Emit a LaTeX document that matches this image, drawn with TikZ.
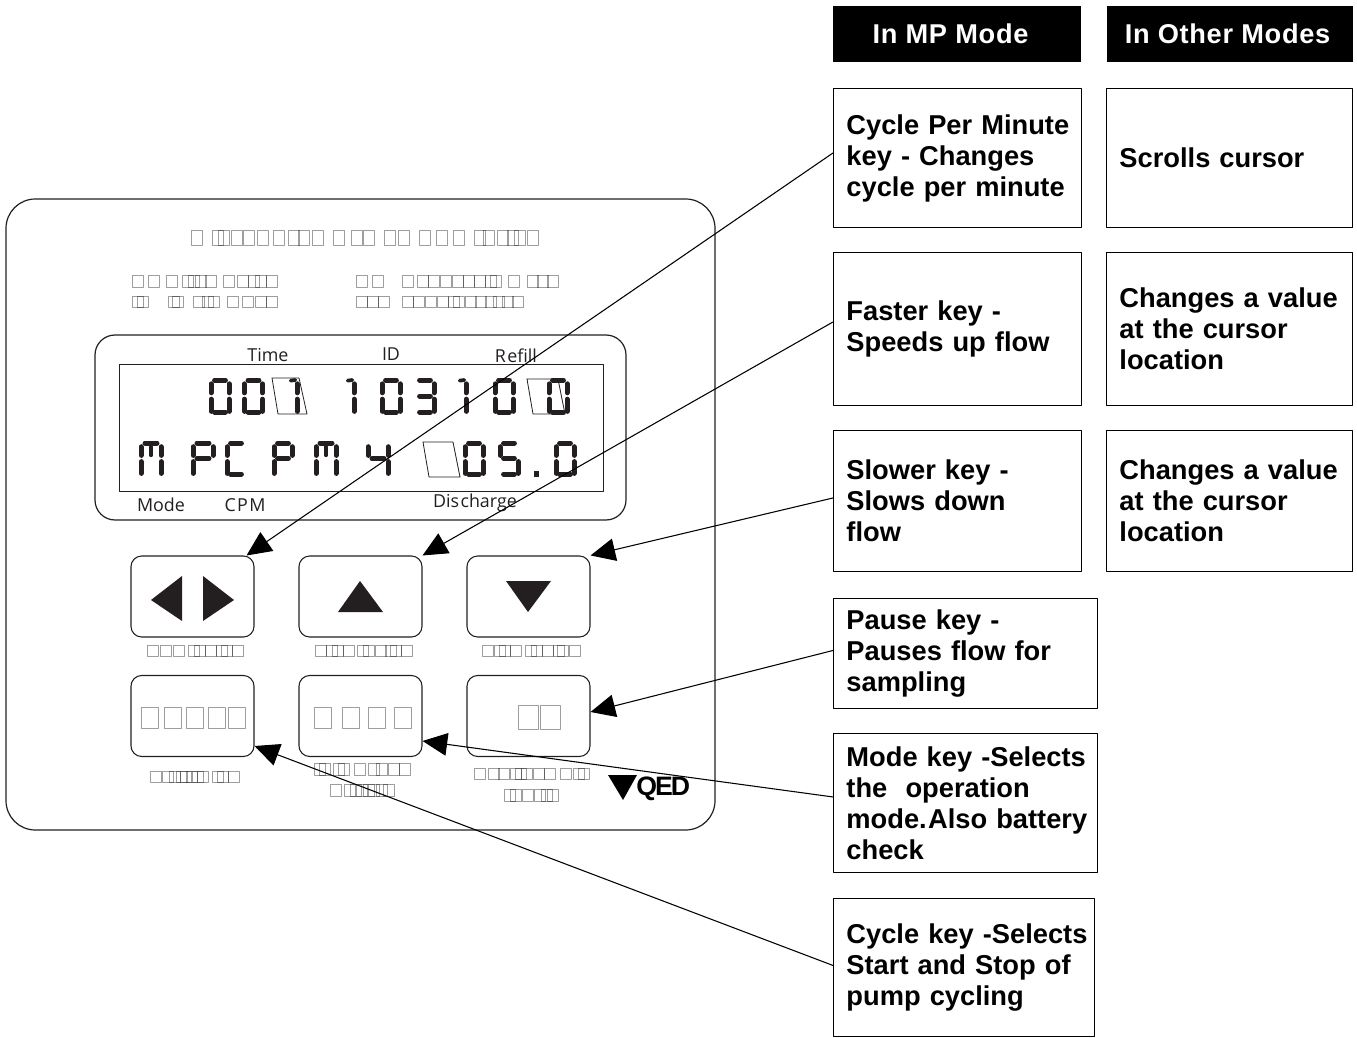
\documentclass[tikz,border=0pt]{standalone}
\usepackage{fontspec}
\setmainfont{Liberation Sans}
\newfontfamily\lcdfont{Open Sans}
\newfontfamily\headfont[LetterSpace=2.5]{Liberation Sans}
\usepackage{xcolor}
\definecolor{qedInk}{HTML}{231F20}
\usetikzlibrary{arrows.meta,calc,positioning}

% one lcd character: x, y of its top left corner, width, height, segments
\newcommand{\lcdchar}[5]{%
  \def\lw{#3}\def\lh{#4}%
  \begin{scope}[shift={(#1,#2)}]
    \foreach \s in {#5}{\csname lcdseg\s\endcsname}
  \end{scope}}
\newcommand{\lcdsega}{\draw[lcdseg] (0.2*\lw,0) -- (0.8*\lw,0);}
\newcommand{\lcdsegb}{\draw[lcdseg] (\lw,0.12*\lh) -- (\lw,0.4*\lh);}
\newcommand{\lcdsegc}{\draw[lcdseg] (\lw,0.6*\lh) -- (\lw,0.98*\lh);}
\newcommand{\lcdsegd}{\draw[lcdseg] (0.2*\lw,\lh) -- (0.8*\lw,\lh);}
\newcommand{\lcdsege}{\draw[lcdseg] (0,0.6*\lh) -- (0,0.98*\lh);}
\newcommand{\lcdsegf}{\draw[lcdseg] (0,0.12*\lh) -- (0,0.4*\lh);}
\newcommand{\lcdsegg}{\draw[lcdseg] (0.2*\lw,0.5*\lh) -- (0.8*\lw,0.5*\lh);}
\newcommand{\lcdsegm}{\draw[lcdseg,line width=2.6pt] (0.5*\lw,0.12*\lh) -- (0.5*\lw,0.4*\lh);}
\newcommand{\lcdsegh}{\draw[lcdseg,line width=2.8pt] (0.42*\lw,0.02*\lh) -- (0.85*\lw,0);}

% row of empty glyph boxes: top, bottom, width, left edges
\newcommand{\tofurow}[4]{%
  \foreach \tx in {#4}{\draw[tofu] (\tx,#1) rectangle (\tx+#3,#2);}}

\begin{document}
\begin{tikzpicture}[x=0.75pt,y=-0.75pt,line join=round]
  \tikzset{
    panel/.style={draw=qedInk,line width=0.9pt},
    lcdseg/.style={draw=qedInk,line width=3.75pt,line cap=round},
    tofu/.style={draw=black,opacity=0.38,line width=0.6pt},
    keycap/.style={
      draw=qedInk,
      line width=0.8pt,
      rounded corners=8pt,
      minimum width=92.25pt,
      minimum height=60.75pt,
      inner sep=0pt,
    },
    lcdlabel/.style={font=\lcdfont\fontsize{13.4}{15}\selectfont,text=qedInk,inner sep=0pt},
    headbox/.style={
      fill=black,
      minimum height=42pt,
      inner sep=0pt,
    },
    headtext/.style={
      text=white,
      font=\headfont\bfseries\fontsize{20.4}{23.25}\selectfont,
      inner sep=0pt,
    },
    keybox/.style={
      draw=black,
      line width=0.7pt,
      font=\bfseries\fontsize{20.45}{23.25}\selectfont,
      inner xsep=9.75pt,
      inner ysep=0pt,
      text width=#1,
      align=left,
      anchor=north west,
    },
    callout/.style={
      draw=black,
      line width=0.8pt,
      -{Triangle[length=18.5pt,width=17pt]},
    },
  }

  \path[use as bounding box] (0,0) rectangle (1357,1038);

  % front panel and display
  \draw[panel,rounded corners=22pt] (6,199) rectangle (715,830);
  \draw[panel,rounded corners=15pt] (95,335) rectangle (626,520);
  \draw[panel,line width=0.7pt] (119,364) rectangle (603,491);

  \node[lcdlabel] (timeLabel) at (268,355) {Time};
  \node[lcdlabel] (idLabel) at (391,354) {ID};
  \node[lcdlabel] (refillLabel) at (516,356) {R\kern1pt efill};
  \node[lcdlabel] (modeLabel) at (161,505) {Mode};
  \node[lcdlabel] (cpmLabel) at (245,505) {C\kern1pt P\kern1pt M};
  \node[lcdlabel] (dischargeLabel) at (475,503) {Dis\kern1pt charge};

  % top row of the display
  \lcdchar{211}{380}{18}{32}{a,b,c,d,e,f}
  \lcdchar{244.5}{380}{18}{32}{a,b,c,d,e,f}
  \lcdchar{286}{380}{11}{32}{b,c,h}
  \lcdchar{343}{380}{11}{32}{b,c,h}
  \lcdchar{382}{380}{18}{32}{a,b,c,d,e,f}
  \lcdchar{416}{380}{18}{32}{a,b,c,g,d}
  \lcdchar{455}{380}{11}{32}{b,c,h}
  \lcdchar{495}{380}{18}{32}{a,b,c,d,e,f}
  \lcdchar{549}{380}{18}{32}{a,b,c,d,e,f}
  \draw[panel,line width=0.6pt] (272,378) -- (299,378) -- (307,414) -- (278,414) -- cycle;
  \draw[panel,line width=0.6pt] (527,379) -- (558,379) -- (565,414) -- (533,414) -- cycle;

  % bottom row of the display
  \lcdchar{141}{443}{20}{31}{a,b,c,e,f,m}
  \lcdchar{193}{443}{20}{31}{a,b,e,f,g}
  \lcdchar{227}{443}{18}{31}{a,d,e,f}
  \lcdchar{274}{443}{18}{31}{a,b,e,f,g}
  \lcdchar{316}{443}{20}{31}{a,b,c,e,f,m}
  \lcdchar{368}{443}{20}{31}{b,c,f,g}
  \lcdchar{465}{443}{18}{31}{a,b,c,d,e,f}
  \lcdchar{500}{443}{18}{31}{a,c,d,f,g}
  \draw[lcdseg,line width=4pt,line cap=butt] (534,474) -- (539,474);
  \lcdchar{556}{443}{18}{31}{a,b,c,d,e,f}
  \draw[panel,line width=0.6pt] (423,442) -- (453,442) -- (460,477) -- (429,477) -- cycle;

  % empty glyphs of the panel print
  \tofurow{230}{245}{11.5}{191,212,218,231,243,257,273,288,298,312,333,351,363,384,398,419,436,453,474,483,497,507,514,527}
  \tofurow{275}{287}{11}{132,148,166,182,188,195,205,223,237,248,255,266}
  \tofurow{296}{307}{11}{132,137,168,172,193,202,208,227,242,255,266}
  \tofurow{275}{287}{11}{356,372,402,417,428,440,452,463,474,485,490,508,527,537,547}
  \tofurow{296}{307}{11}{356,367,378,402,413,425,437,448,453,465,475,485,493,502,512}

  % keys
  \node[keycap] (cycleCap) at (192.5,596.5) {};
  \node[keycap] (fasterCap) at (360.5,596.5) {};
  \node[keycap] (slowerCap) at (528.5,596.5) {};
  \node[keycap] (modeCap) at (192.5,716) {};
  \node[keycap] (pauseCap) at (360.5,716) {};
  \node[keycap] (stopCap) at (528.5,716) {};

  \fill[qedInk] (151,600) -- (182,576) -- (182,621) -- cycle;
  \fill[qedInk] (203,576) -- (203,621) -- (234,600) -- cycle;
  \fill[qedInk] (338,612) -- (383,612) -- (360,581) -- cycle;
  \fill[qedInk] (506,581) -- (551,581) -- (528,612) -- cycle;

  \tofurow{707}{728}{17}{141,164,186,208,228}
  \tofurow{707}{728}{17.5}{314,342,368,394}
  \tofurow{705}{729}{20.5}{518,540}

  \tofurow{645}{656}{11}{147,160,173,188,194,205,216,221,232}
  \tofurow{645}{656}{11}{315,326,332,343,357,363,375,385,390,401}
  \tofurow{645}{656}{11}{482,494,499,510,525,531,542,553,557,569}
  \tofurow{771}{782}{11}{150,162,169,176,180,186,192,197,212,217,228}
  \tofurow{763}{775}{11}{314,319,333,338,354,368,376,388,399}
  \tofurow{784}{796}{11}{330,344,350,356,363,368,376,383}
  \tofurow{768}{779}{11}{474,488,498,510,515,521,533,544,560,573,578}
  \tofurow{789}{801}{11}{504,510,522,534,541,547}

  % logo
  \fill[black] (608,775) -- (637,775) -- (623,800) -- cycle;
  \node[inner sep=0pt,anchor=west,font=\fontsize{20}{22}\selectfont] (qedLogo) at (636,789)
    {\textbf{Q\kern-1.5pt E\kern-1.5pt D}};

  % column heads
  \node[headbox,minimum width=186pt] (mpHead) at (957,34) {};
  \node[headbox,minimum width=184.5pt] (otherHead) at (1230,34) {};
  \node[headtext] (mpText) at (950.5,34) {In MP Mode};
  \node[headtext] (otherText) at (1227.5,34) {In Other Modes};

  \node[keybox=166.5pt,minimum height=104.25pt] (cycleBox) at (833,88)
    {\mbox{Cycle Per Minute}\\key - Changes\\cycle per minute};
  \node[keybox=165.25pt,minimum height=104.25pt] (scrollBox) at (1106,88) {Scrolls cursor};
  \node[keybox=166.5pt,minimum height=114.75pt] (fasterBox) at (833,252)
    {Faster key -\\Speeds up flow};
  \node[keybox=165.25pt,minimum height=114.75pt] (valueBoxA) at (1106,252)
    {\mbox{Changes a value}\\at the cursor\\location};
  \node[keybox=166.5pt,minimum height=105.75pt] (slowerBox) at (833,430)
    {Slower key -\\Slows down\\flow};
  \node[keybox=165.25pt,minimum height=105.75pt] (valueBoxB) at (1106,430)
    {\mbox{Changes a value}\\at the cursor\\location};
  \node[keybox=178.5pt,minimum height=82.5pt] (pauseBox) at (833,598)
    {Pause key -\\Pauses flow for\\sampling};
  \node[keybox=178.5pt,minimum height=104.25pt] (modeBox) at (833,733)
    {\mbox{Mode key -Selects}\\the\ \ operation\\\mbox{mode.\kern1pt Also battery}\\check};
  \node[keybox=176.25pt,minimum height=103.5pt] (stopBox) at (833,898)
    {\mbox{Cycle key -Selects}\\Start and Stop of\\pump cycling};

  % callouts
  \draw[callout] ($(cycleBox.west)+(0,-5)$) -- ($(cycleCap.north east)+(-8,0)$);
  \draw[callout] ($(fasterBox.west)+(0,-7)$) -- (fasterCap.north east);
  \draw[callout] ($(slowerBox.west)+(0,-3)$) -- (slowerCap.north east);
  \draw[callout] ($(pauseBox.west)+(0,-3)$) -- ($(stopCap.east)+(0,-4)$);
  \draw[callout] ($(modeBox.west)+(0,-6)$) -- ($(pauseCap.east)+(0,25)$);
  \draw[callout] ($(stopBox.west)+(0,-2)$) -- ($(modeCap.east)+(0,30)$);
\end{tikzpicture}
\end{document}
